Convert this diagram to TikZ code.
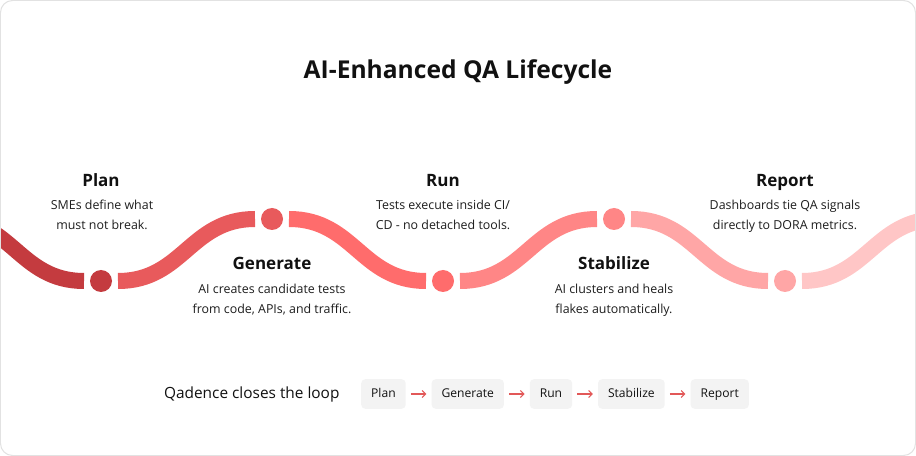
\documentclass[tikz,border=0pt]{standalone}
\usepackage{fontspec}
\setmainfont{Open Sans}
\usetikzlibrary{arrows.meta,positioning}
\definecolor{inkText}{RGB}{17,17,17}
\definecolor{bodyText}{RGB}{30,30,30}
\definecolor{cardLine}{RGB}{226,226,226}
\definecolor{pillFill}{RGB}{243,243,243}
\definecolor{flowArrow}{RGB}{226,88,88}
\definecolor{waveA}{RGB}{196,59,63}
\definecolor{waveB}{RGB}{232,90,92}
\definecolor{waveC}{RGB}{255,108,108}
\definecolor{waveD}{RGB}{255,134,134}
\definecolor{waveE}{RGB}{255,166,166}
\definecolor{waveF}{RGB}{255,198,198}

\begin{document}
\begin{tikzpicture}[x=1bp, y=-1bp,
    every node/.style={font=\fontsize{12.4bp}{20bp}\selectfont, text=bodyText},
    wave/.style={line width=16bp, line cap=butt, shorten <=17bp, shorten >=17bp},
    dot/.style={circle, inner sep=0pt, minimum size=22bp},
    stagehead/.style={font=\fontsize{17bp}{20bp}\selectfont\bfseries, text=inkText, anchor=base},
    stagetext/.style={align=center, anchor=north, inner sep=0pt},
    pill/.style={fill=pillFill, rounded corners=4bp, minimum height=29.5bp, inner xsep=10bp,
      text height=9bp, text depth=2.5bp, text=inkText, font=\fontsize{12.1bp}{14bp}\selectfont},
    >={Straight Barb[length=3.5bp, width=7bp]}]
    \useasboundingbox (0,0) rectangle (916,456);
    % Card
    \fill[white, rounded corners=12bp] (0.5,0.5) rectangle (915.5,455.5);
    % Title
    \node[font=\fontsize{24.6bp}{28bp}\selectfont\bfseries, text=inkText, anchor=base] (title) at (458,79) {AI-Enhanced QA Lifecycle};
    % Wave stops
    \coordinate (wavestart) at (-70,219);
    \coordinate (waveend) at (956,219);
    \foreach \nm/\x/\y/\col in {plan/101/281/waveA, generate/272/219/waveB, run/443/281/waveC, stabilize/614/219/waveD, report/785/281/waveE} {
      \node[dot, fill=\col] (\nm) at (\x,\y) {};
    }
    % Wave
    \begin{scope}
      \clip[rounded corners=12bp] (0.5,0.5) rectangle (915.5,455.5);
      \foreach \a/\b/\col in {wavestart/plan/waveA, plan/generate/waveB, generate/run/waveC, run/stabilize/waveD, stabilize/report/waveE, report/waveend/waveF} {
        \draw[wave, \col] (\a.center) .. controls +(82,0) and +(-82,0) .. (\b.center);
      }
    \end{scope}
    % Stage texts
    \node[stagehead] (planhead) at (101,187) {Plan};
    \node[stagetext] (plantext) at (102,200) {SMEs define what\\must not break.};
    \node[stagehead] (generatehead) at (272,270) {Generate};
    \node[stagetext] (generatetext) at (272,284) {AI creates candidate tests\\from code, APIs, and traffic.};
    \node[stagehead] (runhead) at (443,187) {Run};
    \node[stagetext] (runtext) at (443,200) {Tests execute inside CI/\\CD - no detached tools.};
    \node[stagehead] (stabilizehead) at (614,270) {Stabilize};
    \node[stagetext] (stabilizetext) at (614,284) {AI clusters and heals\\flakes automatically.};
    \node[stagehead] (reporthead) at (785,187) {Report};
    \node[stagetext] (reporttext) at (785,200) {Dashboards tie QA signals\\directly to DORA metrics.};
    % Loop strip
    \node[pill, anchor=west] (loopplan) at (361,394) {Plan};
    \node[pill, right=25.5bp of loopplan] (loopgenerate) {Generate};
    \node[pill, right=25.5bp of loopgenerate] (looprun) {Run};
    \node[pill, right=25.5bp of looprun] (loopstabilize) {Stabilize};
    \node[pill, right=25.5bp of loopstabilize] (loopreport) {Report};
    \node[font=\fontsize{15.4bp}{18bp}\selectfont, text=inkText, left=18bp of loopplan] (looplabel) {Qadence closes the loop};
    \foreach \a/\b in {loopplan/loopgenerate, loopgenerate/looprun, looprun/loopstabilize, loopstabilize/loopreport} {
      \draw[->, flowArrow, line width=1.1bp, shorten <=5bp, shorten >=5bp] (\a) -- (\b);
    }
    % Card border
    \draw[cardLine, line width=1bp, rounded corners=12bp] (0.5,0.5) rectangle (915.5,455.5);
  \end{tikzpicture}
\end{document}
